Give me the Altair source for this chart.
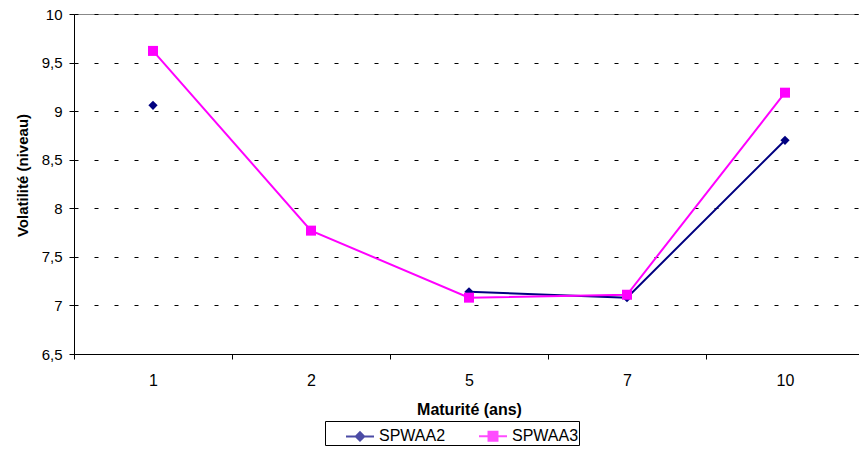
import altair as alt
import pandas as pd

# ---- data ----
maturities = ["1", "2", "5", "7", "10"]
series_names = ["SPWAA2", "SPWAA3"]
spwaa2 = [9.06, None, 7.14, 7.08, 8.70]
spwaa3 = [9.62, 7.77, 7.08, 7.11, 9.19]
y_ticks = [6.5, 7, 7.5, 8, 8.5, 9, 9.5, 10]

# ---- styles ----
colors = ["#000080", "#FF00FF"]
marker_shapes = ["diamond", "square"]
marker_sizes = [85, 100]
# legend symbols: a horizontal line with a marker drawn as nested outlines
legend_shapes = [
    "M-1,0L1,0"
    "M0,-0.3L0.3,0L0,0.3L-0.3,0Z"
    "M0,-0.19L0.19,0L0,0.19L-0.19,0Z"
    "M0,-0.08L0.08,0L0,0.08L-0.08,0Z",
    "M-1,0L1,0"
    "M-0.32,-0.32L0.32,-0.32L0.32,0.32L-0.32,0.32Z"
    "M-0.21,-0.21L0.21,-0.21L0.21,0.21L-0.21,0.21Z"
    "M-0.1,-0.1L0.1,-0.1L0.1,0.1L-0.1,0.1Z",
]
FONT = "Liberation Sans, Arial, sans-serif"

rows = []
for s, vals in zip(series_names, [spwaa2, spwaa3]):
    for m, v in zip(maturities, vals):
        rows.append({"maturite": m, "serie": s, "valeur": v})
df = pd.DataFrame(rows)

x_enc = alt.X(
    "maturite:N",
    sort=maturities,
    scale=alt.Scale(type="band", paddingInner=0, paddingOuter=0),
    axis=alt.Axis(
        title="Maturité (ans)",
        labelAngle=0,
        tickBand="extent",
        labelFontSize=16,
        labelPadding=13,
        titleFontSize=16,
        titlePadding=13,
        grid=False,
    ),
)
y_enc = alt.Y(
    "valeur:Q",
    scale=alt.Scale(domain=[6.5, 10], nice=False, zero=False),
    axis=alt.Axis(
        title="Volatilité (niveau)",
        values=y_ticks,
        labelExpr="replace(format(datum.value, '~g'), '.', ',')",
        labelFontSize=15,
        labelPadding=7,
        titleFontSize=15,
        titlePadding=11,
        titleY=161,
        grid=True,
        gridDash=[4, 16],
        gridColor="black",
        gridWidth=1,
    ),
)

base = alt.Chart(df).encode(x=x_enc, y=y_enc)

layers = []
for name, col, shp, sz in zip(series_names, colors, marker_shapes, marker_sizes):
    sub = base.transform_filter(alt.datum.serie == name)
    layers.append(
        sub.mark_line(
            color=col, strokeWidth=2, invalid="break-paths-show-domains"
        )
    )
    layers.append(
        sub.mark_point(filled=True, color=col, shape=shp, size=sz, opacity=1)
    )

legend_def = alt.Legend(
    title=None,
    orient="none",
    legendX=251,
    legendY=407,
    direction="horizontal",
    strokeColor="black",
    padding=0,
    symbolSize=784,
    symbolStrokeWidth=2,
    symbolOffset=20,
    labelFont=FONT,
    labelFontSize=16,
    labelColor="black",
    labelOffset=4,
    columnPadding=12,
)
legend_layer = (
    alt.Chart(df)
    .mark_point(filled=False, strokeWidth=2)
    .encode(
        x=alt.value(-200),
        y=alt.value(-200),
        color=alt.Color(
            "serie:N",
            scale=alt.Scale(domain=series_names, range=colors),
            legend=legend_def,
        ),
        shape=alt.Shape(
            "serie:N",
            scale=alt.Scale(domain=series_names, range=legend_shapes),
            legend=legend_def,
        ),
    )
)

chart = (
    alt.layer(*layers, legend_layer)
    .properties(
        width=790,
        height=340,
        padding={"left": 74, "top": 14, "right": -5, "bottom": 96},
        autosize=alt.AutoSizeParams(type="none"),
    )
    .configure_view(stroke="#888888", strokeWidth=1)
    .configure_axis(
        labelFont=FONT,
        titleFont=FONT,
        labelColor="black",
        titleColor="black",
        titleFontWeight="bold",
        domainColor="black",
        tickColor="black",
        tickSize=5,
    )
)

chart.save("out.html", embed_options={"renderer": "svg", "actions": False})
